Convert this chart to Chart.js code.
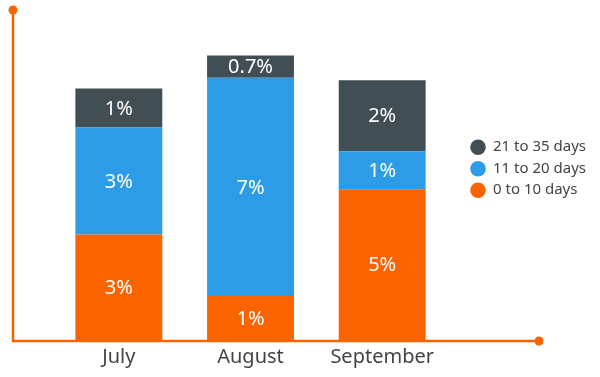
<!DOCTYPE html>
<html>
<head>
<meta charset="utf-8">
<script src="https://cdn.jsdelivr.net/npm/chart.js@4/dist/chart.umd.min.js"></script>
<style>
  body { margin: 0; background: #fff; }
  #holder { width: 600px; height: 377px; }
</style>
</head>
<body>
<div id="holder"><canvas id="chart" width="600" height="377"></canvas></div>
<script>
// months on the x axis
var months = ["July", "August", "September"];

// share of each group (percent)
var zeroToTen = [3.2, 1.33, 4.57];
var elevenToTwenty = [3.24, 6.62, 1.15];
var twentyOneToThirtyFive = [1.18, 0.67, 2.15];

var seriesNames = ["0 to 10 days", "11 to 20 days", "21 to 35 days"];

var orange = "#F96400";
var blue = "#2D9CE6";
var slate = "#414F55";

Chart.defaults.font.family = "'Noto Sans', Roboto, sans-serif";

function pctLabel(v) {
    return (v < 1 ? v.toFixed(1) : Math.round(v)) + "%";
}

// white labels in the middle of each stacked piece
var barLabels = {
    id: "barLabels",
    afterDatasetsDraw: function(chart) {
        var ctx = chart.ctx;
        ctx.save();
        ctx.fillStyle = "#fff";
        ctx.font = "20px 'Noto Sans', Roboto, sans-serif";
        ctx.textAlign = "center";
        ctx.textBaseline = "middle";
        chart.data.datasets.forEach(function(ds, i) {
            var meta = chart.getDatasetMeta(i);
            meta.data.forEach(function(bar, j) {
                var mid = (bar.y + bar.base) / 2;
                ctx.fillText(pctLabel(ds.data[j]), bar.x, mid + 1);
            });
        });
        ctx.restore();
    }
};

// orange axis lines with a dot at each end
var axisLines = {
    id: "axisLines",
    beforeDatasetsDraw: function(chart) {
        var ctx = chart.ctx;
        var area = chart.chartArea;
        var y = chart.scales.y;
        var left = area.left - 40;
        var right = area.right + 91;
        var top = y.getPixelForValue(y.max);
        var bottom = y.getPixelForValue(0) + 1;
        ctx.save();
        ctx.strokeStyle = orange;
        ctx.fillStyle = orange;
        ctx.lineWidth = 2.5;
        ctx.beginPath();
        ctx.moveTo(left, top);
        ctx.lineTo(left, bottom);
        ctx.lineTo(right, bottom);
        ctx.stroke();
        ctx.beginPath();
        ctx.arc(left, top, 4.5, 0, Math.PI * 2);
        ctx.fill();
        ctx.beginPath();
        ctx.arc(right, bottom, 4.5, 0, Math.PI * 2);
        ctx.fill();
        ctx.restore();
    }
};

var ctx = document.getElementById("chart").getContext("2d");
new Chart(ctx, {
    type: "bar",
    data: {
        labels: months,
        datasets: [
            { label: seriesNames[0], data: zeroToTen, backgroundColor: orange },
            { label: seriesNames[1], data: elevenToTwenty, backgroundColor: blue },
            { label: seriesNames[2], data: twentyOneToThirtyFive, backgroundColor: slate }
        ]
    },
    options: {
        responsive: false,
        animation: false,
        layout: { padding: { top: 10, left: 53, bottom: 3, right: 4 } },
        datasets: { bar: { barPercentage: 0.66, categoryPercentage: 1 } },
        scales: {
            x: {
                stacked: true,
                grid: { display: false, drawTicks: false },
                border: { display: false },
                ticks: { color: "#444", font: { size: 20 }, padding: 5 }
            },
            y: {
                stacked: true,
                position: "right",
                min: 0,
                max: 10,
                grid: { display: false, drawTicks: false },
                border: { display: false },
                ticks: { display: false },
                // empty gap between the bars and the legend
                afterFit: function(scale) { scale.width = 16; }
            }
        },
        plugins: {
            tooltip: { enabled: false },
            legend: {
                position: "right",
                align: "start",
                reverse: true,
                title: { display: true, text: "", font: { size: 1 }, padding: { top: 122, bottom: 0 } },
                labels: {
                    usePointStyle: true,
                    pointStyle: "circle",
                    boxHeight: 11,
                    color: "#444",
                    font: { size: 15 },
                    padding: 6.5
                }
            }
        }
    },
    plugins: [axisLines, barLabels]
});
</script>
</body>
</html>
